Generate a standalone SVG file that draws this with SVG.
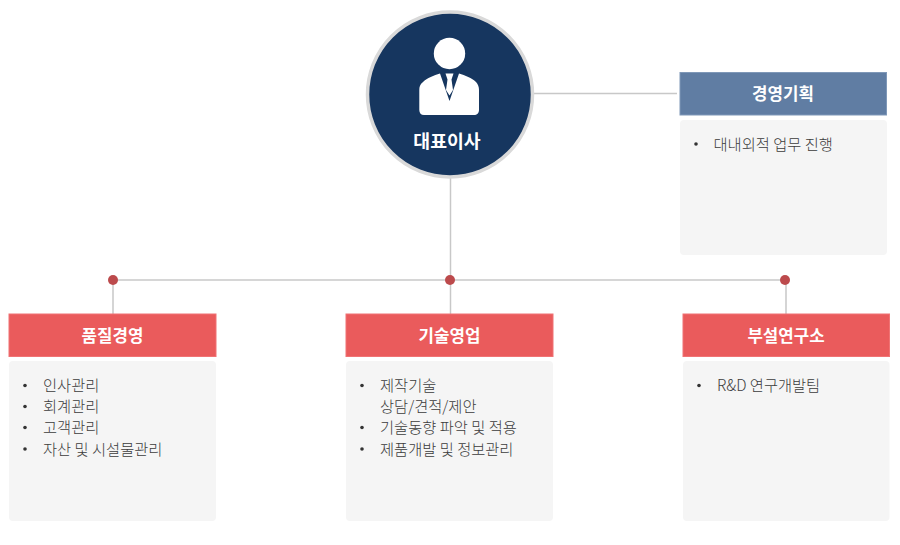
<svg xmlns="http://www.w3.org/2000/svg" width="900" height="545" viewBox="0 0 900 545">
<style>
text{font-family:"Noto Sans CJK KR","Noto Sans",sans-serif}
.head{font-size:16.800px;font-weight:700;fill:#fff;text-anchor:middle}
.item{font-size:15.300px;fill:#3c3c3c;font-weight:300}
.dot{fill:#333}
.body{fill:#f5f5f5}
.red{fill:#ea5b5c;stroke:#f07374;stroke-width:1}
.blue{fill:#607da3;stroke:#7f98b8;stroke-width:1}
.conn{stroke:#c8c8c8;stroke-width:1.500;fill:none}
.node{fill:#bc4a4c}
</style>
<rect width="900" height="545" fill="#fff"/>
<g id="connectors">
<path class="conn" d="M533 93.500H677"/>
<path class="conn" d="M450.500 178V314"/>
<path class="conn" d="M113 280H785"/>
<path class="conn" d="M113 280V314M786 280V314"/>
<circle class="node" cx="113" cy="280" r="5"/>
<circle class="node" cx="450" cy="280" r="5"/>
<circle class="node" cx="785" cy="280" r="5"/>
</g>
<g id="ceo">
<circle cx="450" cy="94.500" r="82.500" fill="#16365f" stroke="#d9d9d9" stroke-width="3.500"/>
<circle cx="449.500" cy="53.500" r="15.700" fill="#fff"/>
<path fill="#fff" d="M440 73.500L449.500 101L459 73.500C465 75.500 472 78 476 82C478 84 479 87 479 90V110C479 113 477 115 474 115H424C421 115 419.300 113 419.300 110V90C419.300 87 420 84 423 82C427 78 434 75.500 440 73.500Z"/>
<path fill="#fff" d="M445.500 73.500H453.500L451.500 79.500L453 90L449.500 95.500L446 90L447.500 79.500Z"/>
<text x="447" y="147.500" font-size="18.300" font-weight="700" fill="#fff" text-anchor="middle">대표이사</text>
</g>
<g id="planning">
<rect class="blue" x="680" y="72.500" width="206.500" height="42.500"/>
<text class="head" x="783" y="100">경영기획</text>
<rect class="body" x="680" y="120" width="207" height="135" rx="4"/>
<circle class="dot" cx="696" cy="144" r="1.800"/>
<text class="item" x="713.500" y="149.500">대내외적 업무 진행</text>
</g>
<g id="quality">
<rect class="red" x="9" y="314" width="207" height="42.500"/>
<text class="head" x="112.500" y="341.500">품질경영</text>
<rect class="body" x="9" y="361" width="207" height="160" rx="4"/>
<circle class="dot" cx="25" cy="385.500" r="1.800"/>
<text class="item" x="43" y="391">인사관리</text>
<circle class="dot" cx="25" cy="406.500" r="1.800"/>
<text class="item" x="43" y="412">회계관리</text>
<circle class="dot" cx="25" cy="427.500" r="1.800"/>
<text class="item" x="43" y="433">고객관리</text>
<circle class="dot" cx="25" cy="449" r="1.800"/>
<text class="item" x="43" y="454.500">자산 및 시설물관리</text>
</g>
<g id="sales">
<rect class="red" x="346" y="314" width="207" height="42.500"/>
<text class="head" x="449.500" y="341.500">기술영업</text>
<rect class="body" x="346" y="361" width="207" height="160" rx="4"/>
<circle class="dot" cx="362" cy="385.500" r="1.800"/>
<text class="item" x="380" y="391">제작기술</text>
<text class="item" x="380" y="412">상담/견적/제안</text>
<circle class="dot" cx="362" cy="427.500" r="1.800"/>
<text class="item" x="380" y="433">기술동향 파악 및 적용</text>
<circle class="dot" cx="362" cy="449" r="1.800"/>
<text class="item" x="380" y="454.500">제품개발 및 정보관리</text>
</g>
<g id="lab">
<rect class="red" x="683" y="314" width="206.500" height="42.500"/>
<text class="head" x="786" y="341.500">부설연구소</text>
<rect class="body" x="683" y="361" width="206.500" height="160" rx="4"/>
<circle class="dot" cx="699" cy="385.500" r="1.800"/>
<text class="item" x="717" y="391">R&amp;D 연구개발팀</text>
</g>
</svg>
